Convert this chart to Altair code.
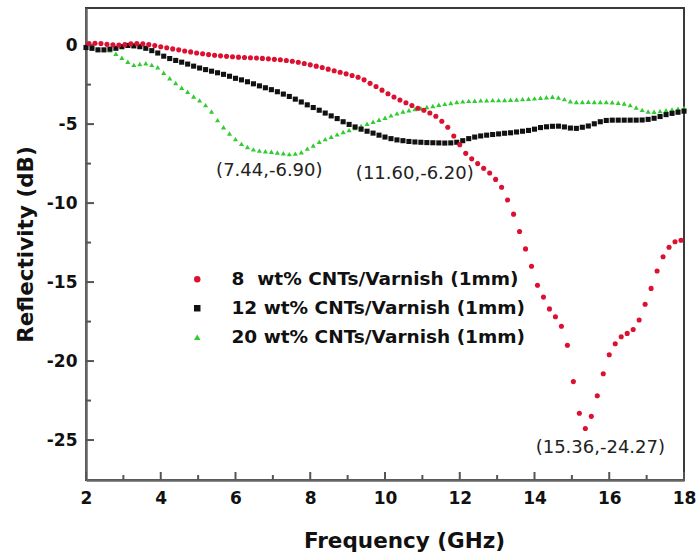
import altair as alt
import pandas as pd

# Frequency sweep (GHz) shared by the 12 wt% and 20 wt% samples
FREQ = [2.00, 2.16, 2.32, 2.48, 2.64, 2.80, 2.96, 3.12, 3.28, 3.44, 3.60, 3.76, 3.92, 4.08, 4.24,
        4.40, 4.56, 4.72, 4.88, 5.04, 5.20, 5.36, 5.52, 5.68, 5.84, 6.00, 6.16, 6.32, 6.48, 6.64,
        6.80, 6.96, 7.12, 7.28, 7.44, 7.60, 7.76, 7.92, 8.08, 8.24, 8.40, 8.56, 8.72, 8.88, 9.04,
        9.20, 9.36, 9.52, 9.68, 9.84, 10.00, 10.16, 10.32, 10.48, 10.64, 10.80, 10.96, 11.12, 11.28,
        11.44, 11.60, 11.76, 11.92, 12.08, 12.24, 12.40, 12.56, 12.72, 12.88, 13.04, 13.20, 13.36,
        13.52, 13.68, 13.84, 14.00, 14.16, 14.32, 14.48, 14.64, 14.80, 14.96, 15.12, 15.28, 15.44,
        15.60, 15.76, 15.92, 16.08, 16.24, 16.40, 16.56, 16.72, 16.88, 17.04, 17.20, 17.36, 17.52,
        17.68, 17.84, 18.00]

# Frequency sweep (GHz) of the 8 wt% sample
FREQ_8 = [2.08, 2.24, 2.40, 2.56, 2.72, 2.88, 3.04, 3.20, 3.36, 3.52, 3.68, 3.84, 4.00, 4.16, 4.32,
          4.48, 4.64, 4.80, 4.96, 5.12, 5.28, 5.44, 5.60, 5.76, 5.92, 6.08, 6.24, 6.40, 6.56, 6.72,
          6.88, 7.04, 7.20, 7.36, 7.52, 7.68, 7.84, 8.00, 8.16, 8.32, 8.48, 8.64, 8.80, 8.96, 9.12,
          9.28, 9.44, 9.60, 9.76, 9.92, 10.08, 10.24, 10.40, 10.56, 10.72, 10.88, 11.04, 11.20, 11.36,
          11.52, 11.68, 11.84, 12.00, 12.16, 12.32, 12.48, 12.64, 12.80, 12.96, 13.12, 13.28, 13.44,
          13.60, 13.76, 13.92, 14.08, 14.24, 14.40, 14.56, 14.72, 14.88, 15.04, 15.20, 15.36, 15.52,
          15.68, 15.84, 16.00, 16.16, 16.32, 16.48, 16.64, 16.80, 16.96, 17.12, 17.28, 17.44, 17.60,
          17.76, 17.92]

# Reflectivity (dB)
R_8 = [0.10, 0.12, 0.10, 0.05, 0.02, 0.00, 0.03, 0.08, 0.10, 0.08, 0.03, -0.03, -0.10, -0.17, -0.24,
       -0.30, -0.37, -0.43, -0.50, -0.55, -0.60, -0.64, -0.68, -0.71, -0.74, -0.76, -0.78, -0.80,
       -0.82, -0.84, -0.87, -0.90, -0.93, -0.97, -1.02, -1.08, -1.16, -1.25, -1.33, -1.42, -1.52,
       -1.62, -1.72, -1.82, -1.92, -2.03, -2.20, -2.42, -2.62, -2.85, -3.08, -3.28, -3.47, -3.65,
       -3.82, -4.00, -4.12, -4.30, -4.50, -4.82, -5.20, -5.75, -6.30, -6.85, -7.20, -7.50, -7.80,
       -8.10, -8.50, -9.00, -9.80, -10.70, -11.80, -12.90, -14.00, -15.20, -15.95, -16.70, -17.20,
       -17.80, -19.00, -21.30, -23.30, -24.27, -23.50, -22.20, -20.80, -19.60, -18.90, -18.46,
       -18.25, -18.00, -17.40, -16.40, -15.40, -14.30, -13.40, -12.80, -12.45, -12.35]

R_12 = [-0.15, -0.20, -0.30, -0.30, -0.25, -0.20, -0.10, -0.02, -0.05, -0.10, -0.20, -0.35, -0.50,
        -0.70, -0.85, -0.97, -1.08, -1.20, -1.33, -1.45, -1.55, -1.65, -1.75, -1.85, -1.97, -2.10,
        -2.20, -2.32, -2.45, -2.58, -2.70, -2.82, -2.95, -3.10, -3.25, -3.42, -3.60, -3.78, -3.95,
        -4.12, -4.30, -4.48, -4.65, -4.85, -5.02, -5.18, -5.32, -5.45, -5.57, -5.70, -5.82, -5.92,
        -6.00, -6.05, -6.10, -6.13, -6.15, -6.17, -6.18, -6.19, -6.20, -6.19, -6.15, -6.05, -5.92,
        -5.82, -5.75, -5.70, -5.66, -5.62, -5.58, -5.55, -5.50, -5.45, -5.40, -5.32, -5.22, -5.17,
        -5.14, -5.13, -5.18, -5.25, -5.27, -5.20, -5.12, -4.98, -4.85, -4.77, -4.75, -4.75, -4.75,
        -4.75, -4.75, -4.74, -4.70, -4.63, -4.52, -4.40, -4.32, -4.25, -4.18]

R_20 = [-0.15, -0.20, -0.25, -0.28, -0.32, -0.55, -0.80, -1.05, -1.25, -1.20, -1.15, -1.25, -1.40,
        -1.75, -2.10, -2.40, -2.70, -2.95, -3.25, -3.50, -3.80, -4.20, -4.75, -5.20, -5.60, -5.95,
        -6.25, -6.45, -6.60, -6.68, -6.72, -6.75, -6.80, -6.85, -6.90, -6.87, -6.78, -6.55, -6.35,
        -6.12, -5.95, -5.80, -5.65, -5.50, -5.38, -5.25, -5.12, -4.98, -4.85, -4.72, -4.60, -4.45,
        -4.32, -4.20, -4.12, -4.05, -4.00, -3.92, -3.85, -3.78, -3.72, -3.66, -3.60, -3.56, -3.53,
        -3.52, -3.50, -3.50, -3.48, -3.48, -3.47, -3.46, -3.44, -3.42, -3.40, -3.37, -3.33, -3.30,
        -3.27, -3.32, -3.42, -3.55, -3.60, -3.60, -3.58, -3.60, -3.60, -3.60, -3.62, -3.65, -3.70,
        -3.80, -3.95, -4.10, -4.20, -4.22, -4.18, -4.12, -4.08, -4.02, -3.98]

# no-break spaces keep the single-digit entry aligned with the others
SERIES = ["8\u00a0\u00a0wt% CNTs/Varnish (1mm)", "12 wt% CNTs/Varnish (1mm)", "20 wt% CNTs/Varnish (1mm)"]
COLORS = ["#dc1030", "#111111", "#30cc30"]
SHAPES = ["circle", "square", "triangle-up"]

# Reflection-loss minimum of each sample
PEAK_F = [7.44, 11.60, 15.36]
PEAK_R = [-6.90, -6.20, -24.27]

X_MAJOR = [2, 4, 6, 8, 10, 12, 14, 16, 18]
X_MINOR = [3, 5, 7, 9, 11, 13, 15, 17]
Y_MAJOR = [0, -5, -10, -15, -20, -25]
Y_MINOR = [-2.5, -7.5, -12.5, -17.5, -22.5]

W, H = 598, 472
FONT = "DejaVu Sans"

# long table; 20 wt% drawn first so the 8 wt% points sit on top
frames = [
    pd.DataFrame({"f": FREQ, "r": R_20, "s": SERIES[2]}),
    pd.DataFrame({"f": FREQ, "r": R_12, "s": SERIES[1]}),
    pd.DataFrame({"f": FREQ_8, "r": R_8, "s": SERIES[0]}),
]
df = pd.concat(frames, ignore_index=True)

xscale = alt.Scale(domain=[2, 18], nice=False, zero=False)
yscale = alt.Scale(domain=[-27.53, 2.35], nice=False, zero=False)

# plain hyphen-minus tick labels
PLAIN_LABEL = "'' + datum.value"

points = alt.Chart(df).mark_point(filled=True, size=26, opacity=1, strokeWidth=0).encode(
    x=alt.X("f:Q", scale=xscale, title="Frequency (GHz)",
            axis=alt.Axis(values=X_MAJOR, labelExpr=PLAIN_LABEL, labelFlush=False,
                          labelOverlap=False, titleX=318)),
    y=alt.Y("r:Q", scale=yscale, title="Reflectivity (dB)",
            axis=alt.Axis(values=Y_MAJOR, labelExpr=PLAIN_LABEL, labelFlush=False,
                          labelOverlap=False)),
    color=alt.Color("s:N", scale=alt.Scale(domain=SERIES, range=COLORS),
                    legend=alt.Legend(orient="none", legendX=102, legendY=262, title=None,
                                      labelFont=FONT, labelFontWeight="bold", labelFontSize=18.5,
                                      labelColor="#111", labelLimit=0, symbolSize=42,
                                      labelOffset=25, rowPadding=10, padding=0,
                                      symbolStrokeWidth=0)),
    shape=alt.Shape("s:N", scale=alt.Scale(domain=SERIES, range=SHAPES)),
)


def tick_rules(values, length, horizontal):
    data = pd.DataFrame({"v": values})
    rule = alt.Chart(data).mark_rule(color="#555555", strokeWidth=2)
    if horizontal:
        return rule.encode(x=alt.X("v:Q", scale=xscale), y=alt.value(H), y2=alt.value(H - length))
    return rule.encode(y=alt.Y("v:Q", scale=yscale), x=alt.value(0), x2=alt.value(length))


ticks = [
    tick_rules(X_MAJOR, 8, True),
    tick_rules(X_MINOR, 5, True),
    tick_rules(Y_MAJOR, 8, False),
    tick_rules(Y_MINOR, 5, False),
]

# annotation offsets (px) of each minimum label relative to its point
OFFSETS = [(-20, 17), (-30, 31), (15, 19)]
labels = []
for f, r, (dx, dy) in zip(PEAK_F, PEAK_R, OFFSETS):
    lab = pd.DataFrame({"f": [f], "r": [r], "t": [f"({f:.2f},{r:.2f})"]})
    labels.append(
        alt.Chart(lab).mark_text(font=FONT, fontSize=18, color="#222222", dx=dx, dy=dy,
                                 align="center", baseline="middle").encode(
            x=alt.X("f:Q", scale=xscale), y=alt.Y("r:Q", scale=yscale), text="t:N")
    )

chart = alt.layer(*ticks, points, *labels).properties(
    width=W, height=H,
    autosize=alt.AutoSizeParams(type="none"),
    padding={"left": 86, "top": 8, "right": 12, "bottom": 75},
    background="white",
).configure_view(
    stroke="#3a3a3a", strokeWidth=2
).configure_axis(
    labelFont=FONT, labelFontWeight="bold", labelFontSize=17, labelColor="#111",
    titleFont=FONT, titleFontWeight="bold", titleFontSize=21.5, titleColor="#111",
    grid=False, ticks=False, tickSize=0, domainColor="#666666", domainWidth=2.5,
).configure_axisX(
    labelPadding=10, titlePadding=24
).configure_axisY(
    labelPadding=9, titlePadding=9
)

chart.save("out.html", embed_options={"renderer": "svg", "actions": False})
